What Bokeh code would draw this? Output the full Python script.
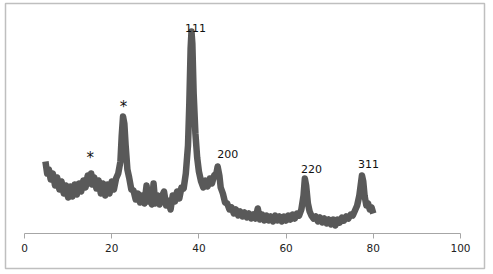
from bokeh.plotting import figure
from bokeh.models import ColumnDataSource, FixedTicker, Range1d
from bokeh.core.properties import value
from bokeh.embed import file_html
from bokeh.resources import INLINE

two_theta = [4.8, 5.2, 5.6, 6.0, 6.5, 7.0, 7.5, 8.0, 8.5, 9.0, 9.5, 10.0, 10.5, 11.0, 11.5, 12.0,
             12.5, 13.0, 13.5, 14.0, 14.5, 15.0, 15.3, 15.6, 16.0, 16.5, 17.0, 17.5, 18.0, 18.5,
             19.0, 19.5, 20.0, 20.5, 21.0, 21.5, 22.0, 22.3, 22.6, 22.9, 23.2, 23.6, 24.0, 24.5,
             25.0, 25.5, 26.0, 26.5, 27.0, 27.5, 28.0, 28.3, 28.7, 29.2, 29.6, 30.0, 30.5, 31.0,
             31.5, 32.0, 32.5, 33.0, 33.5, 34.0, 34.5, 35.0, 35.5, 36.0, 36.5, 37.0, 37.5, 37.8,
             38.1, 38.3, 38.5, 38.8, 39.2, 39.6, 40.0, 40.5, 41.0, 41.5, 42.0, 42.5, 43.0, 43.5,
             44.0, 44.3, 44.7, 45.0, 45.5, 46.0, 46.5, 47.0, 47.5, 48.0, 48.5, 49.0, 49.5, 50.0,
             50.5, 51.0, 51.5, 52.0, 52.5, 53.0, 53.5, 54.0, 54.5, 55.0, 55.5, 56.0, 56.5, 57.0,
             57.5, 58.0, 58.5, 59.0, 59.5, 60.0, 60.5, 61.0, 61.5, 62.0, 62.5, 63.0, 63.5, 64.0,
             64.3, 64.6, 65.0, 65.4, 65.8, 66.3, 66.8, 67.3, 67.8, 68.3, 68.8, 69.3, 69.8, 70.3,
             70.8, 71.3, 71.8, 72.3, 72.8, 73.3, 73.8, 74.3, 74.8, 75.3, 75.8, 76.3, 76.8, 77.1,
             77.4, 77.7, 78.0, 78.4, 78.8, 79.2, 79.6, 80.0]
intensity = [72, 60, 64, 54, 60, 48, 56, 44, 52, 40, 48, 36, 47, 37, 49, 39,
             50, 42, 53, 46, 58, 50, 60, 49, 56, 45, 53, 40, 50, 38,
             49, 40, 52, 44, 55, 60, 72, 98, 117, 110, 88, 64, 56, 44,
             43, 34, 40, 31, 38, 30, 48, 32, 37, 29, 50, 30, 38, 29,
             37, 42, 28, 33, 24, 38, 32, 42, 35, 46, 45, 60, 88, 130,
             185, 202, 190, 140, 100, 76, 62, 52, 46, 53, 47, 55, 50, 58,
             60, 67, 58, 46, 40, 31, 30, 24, 26, 20, 24, 18, 22, 17,
             21, 16, 20, 15, 19, 15, 25, 14, 19, 13, 18, 13, 17, 12,
             18, 13, 17, 12, 17, 13, 18, 14, 19, 15, 20, 18, 24, 38,
             55, 48, 30, 22, 18, 15, 17, 12, 16, 11, 15, 10, 14, 9,
             14, 8, 14, 11, 16, 13, 17, 15, 19, 18, 23, 28, 38, 48,
             58, 52, 38, 28, 30, 24, 26, 20]

label_text = ["*", "*", "111", "200", "220", "311"]
label_x = [15.1, 22.7, 39.2, 46.6, 65.8, 78.9]
label_y = [76, 127, 206, 80, 65, 70]
label_size = ["15px", "15px", "11px", "11px", "11px", "11px"]

x_ticks = [0, 20, 40, 60, 80, 100]

p = figure(width=493, height=274, x_range=Range1d(-4.358, 105.505), y_range=Range1d(-35, 230),
           output_backend="svg", toolbar_location=None, y_axis_location=None,
           min_border_left=5, min_border_right=9, min_border_top=3, min_border_bottom=6)
p.outline_line_color = "#bfbfbf"
p.outline_line_width = 1.5
p.grid.visible = False

p.line(two_theta, intensity, line_color="#595959", line_width=6.5, line_join="round")

src = ColumnDataSource(dict(x=label_x, y=label_y, t=label_text, s=label_size))
p.text(x="x", y="y", text="t", source=src, text_font=value("DejaVu Sans"),
       text_font_size="s", text_align="center", text_baseline="middle", text_color="#111111")

ax = p.xaxis[0]
ax.fixed_location = 0
ax.bounds = (0, 100)
ax.ticker = FixedTicker(ticks=x_ticks)
ax.minor_tick_line_color = None
ax.major_tick_out = 5
ax.major_tick_in = 0
ax.axis_line_color = "#a6a6a6"
ax.major_tick_line_color = "#a6a6a6"
ax.major_label_text_font = "DejaVu Sans"
ax.major_label_text_font_size = "10.5px"
ax.major_label_text_color = "#222222"
ax.major_label_standoff = 5

open("out.html", "w").write(file_html(p, INLINE))
